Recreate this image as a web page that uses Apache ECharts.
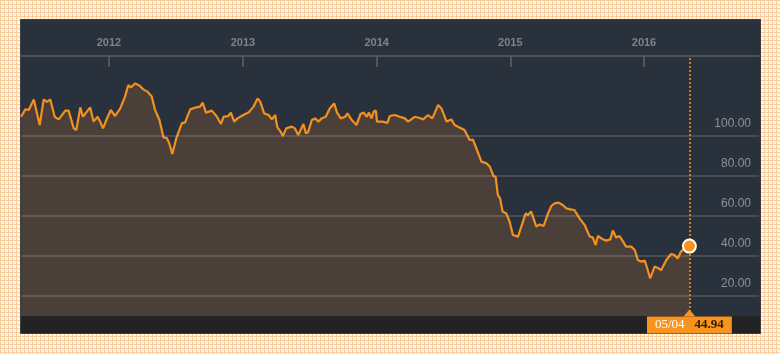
<!DOCTYPE html>
<html>
<head>
<meta charset="utf-8">
<script src="https://cdn.jsdelivr.net/npm/echarts@6/dist/echarts.min.js"></script>
<style>html,body{margin:0;padding:0}#main{width:780px;height:354px}</style>
</head>
<body>
<div id="main"></div>
<script>
// price history
const dates = [
  '2011-05-06','2011-05-18','2011-05-27','2011-06-10','2011-06-26','2011-07-07','2011-07-16','2011-07-25','2011-08-06','2011-08-17',
  '2011-09-04','2011-09-13','2011-09-27','2011-10-04','2011-10-15','2011-10-22','2011-11-11','2011-11-20','2011-12-01','2011-12-08',
  '2011-12-16','2011-12-25','2011-12-30',
  '2012-01-06','2012-01-18','2012-02-01','2012-02-14','2012-02-23','2012-03-01','2012-03-13','2012-03-26','2012-04-04','2012-04-15',
  '2012-04-27','2012-05-06','2012-05-18','2012-05-29','2012-06-07','2012-06-14','2012-06-22','2012-07-03','2012-07-18','2012-07-27',
  '2012-08-10','2012-08-24','2012-09-06','2012-09-13','2012-09-22','2012-10-08','2012-10-22','2012-11-02','2012-11-09','2012-11-22',
  '2012-11-29','2012-12-08','2012-12-17',
  '2013-01-02','2013-01-16','2013-01-30','2013-02-10','2013-02-17','2013-02-28','2013-03-12','2013-03-21','2013-03-30','2013-04-05',
  '2013-04-12','2013-04-20','2013-04-29','2013-05-14','2013-05-23','2013-06-01','2013-06-15','2013-06-22','2013-06-28','2013-07-08',
  '2013-07-17','2013-07-26','2013-08-04','2013-08-15','2013-08-26','2013-09-07','2013-09-15','2013-09-25','2013-10-07','2013-10-13',
  '2013-10-25','2013-11-07','2013-11-18','2013-11-27','2013-12-05','2013-12-11','2013-12-18','2013-12-24','2013-12-30',
  '2014-01-02','2014-01-17','2014-01-30','2014-02-06','2014-02-19','2014-03-05','2014-03-19','2014-03-28','2014-04-15','2014-04-29',
  '2014-05-08','2014-05-21','2014-06-02','2014-06-09','2014-06-18','2014-06-27','2014-07-11','2014-07-24','2014-08-02','2014-08-15',
  '2014-08-29','2014-09-12','2014-09-21','2014-10-02','2014-10-14','2014-10-28','2014-11-06','2014-11-16','2014-11-22','2014-11-28',
  '2014-12-04','2014-12-11','2014-12-21','2014-12-30',
  '2015-01-08','2015-01-22','2015-01-31','2015-02-12','2015-02-18','2015-02-27','2015-03-13','2015-03-22','2015-04-02','2015-04-14',
  '2015-04-23','2015-05-02','2015-05-13','2015-05-24','2015-06-03','2015-06-14','2015-06-25','2015-07-09','2015-07-23','2015-08-06',
  '2015-08-14','2015-08-22','2015-08-28','2015-09-11','2015-09-20','2015-10-01','2015-10-08','2015-10-17','2015-10-26','2015-11-05',
  '2015-11-13','2015-11-27','2015-12-07','2015-12-15','2015-12-24',
  '2016-01-03','2016-01-07','2016-01-18','2016-01-30','2016-02-08','2016-02-17','2016-03-02','2016-03-15','2016-03-24','2016-04-02',
  '2016-04-11','2016-04-20','2016-05-04'
];
const prices = [
  109.6,113.3,113,118.3,105.5,118.3,117,118.3,109.6,108.3,
  112.7,112.7,103.8,103,114.3,109.6,114.3,107.2,109.6,107.2,
  103.8,108,107.7,
  113,110,113.8,119.7,125.5,124.3,126.3,125,123.3,122.2,
  119.7,113,108,99.3,99,96.3,91,98.8,106.3,106.8,
  113.3,114.2,114.7,116.7,111.7,112.7,109.6,106,109.6,110,
  111.7,107.2,108.8,
  110.5,111.7,114.7,118.8,117.2,111.3,110.5,108.3,110.5,104.3,
  102.7,100,103.8,104.7,103.8,100.5,106,101.3,102,108,
  108.8,107.2,108.8,109.6,113.8,116.3,111.7,108.8,109.6,111.3,
  108,105.5,111,111.7,109.6,111.7,108.8,112.2,112.7,
  107.2,107.2,106.5,110,110.5,109.6,108.8,107.2,109.6,109,
  108.3,110.5,108.8,111.7,115.5,113.8,107.2,108.3,105.5,104.3,
  103,98,98.2,93,87.2,86.3,84.7,80,79.5,70.5,
  68.8,62.2,61.3,57.2,
  50.5,49.7,54.7,61.3,60.5,62.2,54.7,55.8,55,61.3,
  65,66.3,66.7,65.5,63.8,63.3,63,58.8,55.5,49.7,
  49.3,45.5,50,48.3,47.7,48.3,52.7,49.3,50,47.2,
  44.7,44.7,43,38,37.2,
  37.7,35.5,28.8,34.7,34,33,38,41,40.5,38.8,
  42.2,43.8,44.94
];
const yearTicks = ['2012-01-01','2013-01-01','2014-01-01','2015-01-01','2016-01-01'];
const priceTicks = [20, 40, 60, 80, 100];
const axisStart = '2011-05-06';
const axisEnd = '2016-11-10';

const FONT = '"Liberation Sans", Arial, sans-serif';
const SERIF = '"Liberation Serif", "Times New Roman", serif';
const ORANGE = '#f7931e';

const toTime = s => new Date(s + 'T00:00:00').getTime();
const lastDate = dates[dates.length - 1];
const lastPrice = prices[prices.length - 1];
const yearValues = yearTicks.map(toTime);

// orange crosshatch page background
const pat = document.createElement('canvas');
pat.width = 4; pat.height = 4;
const pc = pat.getContext('2d');
pc.fillStyle = '#fff4e8'; pc.fillRect(0, 0, 4, 4);
pc.fillStyle = '#fbcd9c'; pc.fillRect(0, 0, 4, 1); pc.fillRect(0, 0, 1, 4);

var chartDom = document.getElementById('main');
var myChart = echarts.init(chartDom);
var option = {
  animation: false,
  backgroundColor: { image: pat, repeat: 'repeat' },
  graphic: [
    { type: 'rect', z: -5, shape: { x: 20.5, y: 19.5, width: 740, height: 314 },
      style: { fill: '#29313c', stroke: '#3b3f45', lineWidth: 1 } },
    { type: 'rect', z: -4, shape: { x: 21, y: 316, width: 739, height: 17 },
      style: { fill: '#232323' } }
  ],
  grid: { left: 21, right: 21, top: 56, bottom: 38 },
  xAxis: {
    type: 'value',
    position: 'top',
    min: toTime(axisStart),
    max: toTime(axisEnd),
    axisLine: { lineStyle: { color: '#4c5259', width: 2 } },
    axisTick: { inside: true, length: 11, customValues: yearValues, lineStyle: { color: '#5b6168', width: 1.5 } },
    axisLabel: {
      customValues: yearValues,
      formatter: v => String(new Date(v).getFullYear()),
      color: '#7d838a', fontSize: 11, fontWeight: 'bold', fontFamily: FONT, margin: 8
    },
    splitLine: { show: false }
  },
  yAxis: {
    type: 'value',
    position: 'right',
    min: 10,
    max: 140,
    axisLine: { show: false },
    axisTick: { show: false },
    splitLine: { show: false },
    axisLabel: {
      customValues: priceTicks,
      inside: true,
      formatter: v => v.toFixed(2),
      color: '#8d9297', fontSize: 12, fontFamily: FONT,
      margin: 8, verticalAlign: 'bottom', lineHeight: 25
    }
  },
  series: [
    {
      type: 'line',
      data: dates.map((d, i) => [toTime(d), prices[i]]),
      symbol: 'none',
      lineStyle: { color: '#f3901f', width: 2.2 },
      areaStyle: { color: '#4a4039', opacity: 1, origin: 'start' },
      markLine: {
        silent: true,
        symbol: ['none', 'none'],
        label: { show: false },
        lineStyle: { color: 'rgba(215,195,170,0.26)', width: 1.5, type: 'solid', opacity: 1 },
        data: priceTicks.map(v => ({ yAxis: v }))
      }
    },
    {
      type: 'scatter',
      z: 10,
      data: [[toTime(lastDate), lastPrice]],
      symbolSize: 13,
      itemStyle: { color: ORANGE, borderColor: '#ffffff', borderWidth: 2, opacity: 1 },
      markLine: {
        silent: true,
        symbol: ['none', 'none'],
        label: { show: false },
        lineStyle: { color: '#f09a12', type: [2, 2], width: 1.6, opacity: 1 },
        data: [{ xAxis: toTime(lastDate) }]
      },
      markPoint: {
        silent: true,
        symbol: 'triangle',
        symbolSize: [12, 7],
        itemStyle: { color: ORANGE, opacity: 1 },
        data: [{ coord: [toTime(lastDate), 11.5] }],
        label: {
          show: true,
          position: 'bottom',
          distance: 0,
          formatter: () => '{d|' + lastDate.slice(5, 7) + '/' + lastDate.slice(8, 10) + '}   {v|' + lastPrice.toFixed(2) + '}',
          backgroundColor: ORANGE,
          padding: [2, 8, 2, 8],
          lineHeight: 13,
          rich: {
            d: { color: '#ffffff', fontSize: 13, fontFamily: SERIF, lineHeight: 13 },
            v: { color: '#2a1e0c', fontSize: 13, fontWeight: 'bold', fontFamily: SERIF, lineHeight: 13 }
          }
        }
      }
    }
  ]
};
myChart.setOption(option);
</script>
</body>
</html>
